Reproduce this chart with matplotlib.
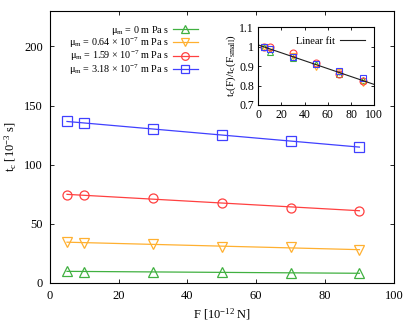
import numpy as np
import matplotlib
matplotlib.use("Agg")
import matplotlib.pyplot as plt
from matplotlib.lines import Line2D

plt.rcParams['font.family'] = ['Liberation Serif', 'DejaVu Serif']
plt.rcParams['mathtext.fontset'] = 'custom'
plt.rcParams['mathtext.rm'] = 'Liberation Serif'
plt.rcParams['mathtext.it'] = 'Liberation Serif:italic'
plt.rcParams['font.size'] = 9

# force values [10^-12 N]
F = [5, 10, 30, 50, 70, 90]
# contact time t_c [10^-3 s] for each viscosity
tc_0 = [9.9, 9.6, 9.3, 9.0, 8.5, 8.2]
tc_064 = [34.5, 34.0, 32.8, 30.8, 30.0, 28.0]
tc_159 = [74.3, 74.0, 71.8, 68.0, 63.8, 61.0]
tc_318 = [137, 135, 130, 125, 120, 115]

labels = ['μ$_\\mathrm{m}$ = 0 m Pa s',
          'μ$_\\mathrm{m}$ = 0.64 × 10$^{-7}$ m Pa s',
          'μ$_\\mathrm{m}$ = 1.59 × 10$^{-7}$ m Pa s',
          'μ$_\\mathrm{m}$ = 3.18 × 10$^{-7}$ m Pa s']
series = [tc_0, tc_064, tc_159, tc_318]
colors = ['#40b040', '#ffb030', '#ff4040', '#4040ff']
markers = ['^', 'v', 'o', 's']

fig = plt.figure(figsize=(4.15, 3.23), dpi=100)
ax = fig.add_axes([0.120, 0.124, 0.829, 0.842])

handles = []
for y, c, m, lab in zip(series, colors, markers, labels):
    k, b = np.polyfit(F, y, 1)
    xs = np.array([F[0], F[-1]])
    ax.plot(xs, k * xs + b, color=c, lw=0.9)
    ax.plot(F, y, ls='none', marker=m, ms=6.5, mfc='none', mec=c, mew=0.9)
    handles.append(Line2D([], [], color=c, lw=0.9, marker=m, ms=5.5, mfc='none', mec=c, mew=0.9))

ax.set_xlim(0, 100)
ax.set_ylim(0, 230)
ax.set_xticks([0, 20, 40, 60, 80, 100])
ax.set_yticks([0, 50, 100, 150, 200])
ax.tick_params(direction='in', top=True, right=True, length=3, width=0.6, pad=5)
ax.set_xlabel('F [10$^{-12}$ N]', labelpad=3)
ax.set_ylabel('t$_\\mathrm{c}$ [10$^{-3}$ s]', labelpad=4)

leg = ax.legend(handles, labels, loc='upper right', bbox_to_anchor=(0.45, 0.98),
                frameon=False, markerfirst=False, handlelength=2.4,
                labelspacing=-0.1, handletextpad=0.4, borderpad=0.2, fontsize=7.3)
for t in leg.get_texts():
    t.set_ha('right')
leg._legend_box.align = 'right'

# inset: normalised contact time
ins = fig.add_axes([0.622, 0.675, 0.280, 0.241])
allx, ally = [], []
for y, c, m in zip(series, colors, markers):
    r = np.array(y) / y[0]
    ins.plot(F, r, ls='none', marker=m, ms=5, mfc='none', mec=c, mew=0.8)
    allx += F
    ally += list(r)
k, b = np.polyfit(allx, ally, 1)
xf = np.array([0, 100])
ins.plot(xf, k * xf + b, color='#202020', lw=0.8, label='Linear fit')
ins.set_xlim(0, 100)
ins.set_ylim(0.7, 1.1)
ins.set_xticks([0, 20, 40, 60, 80, 100])
ins.set_yticks([0.7, 0.8, 0.9, 1.0, 1.1])
ins.set_yticklabels(['0.7', '0.8', '0.9', '1', '1.1'])
ins.tick_params(direction='in', top=True, right=True, length=2.5, width=0.6, labelsize=8.5, pad=3)
ins.set_ylabel('t$_\\mathrm{c}$(F)/t$_\\mathrm{c}$(F$_\\mathrm{small}$)', fontsize=8, labelpad=1)
ins.legend(loc='upper right', frameon=False, markerfirst=False, fontsize=7.5,
           handlelength=2.4, handletextpad=0.5, borderpad=0.4)

fig.savefig('out.png', dpi=100)
